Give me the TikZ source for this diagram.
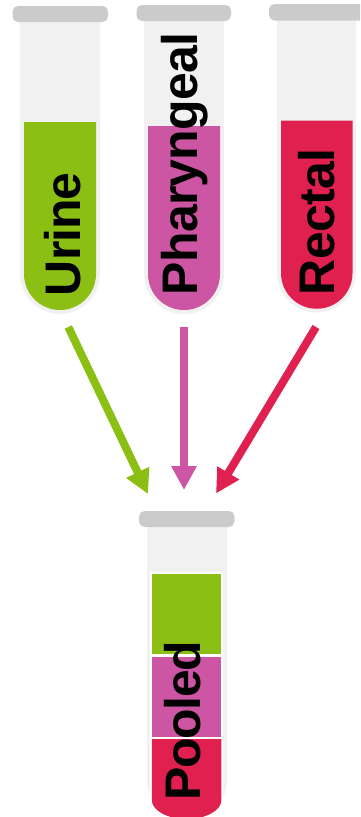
\documentclass[tikz,border=0pt]{standalone}
\usepackage{fontspec}
\setmainfont{Liberation Sans}
\usetikzlibrary{arrows.meta}
\definecolor{ugreen}{HTML}{8BBF14}
\definecolor{ppink}{HTML}{CC56A3}
\definecolor{rred}{HTML}{E0204F}
\definecolor{capgrey}{HTML}{CBCBCB}
\definecolor{glass}{HTML}{F1F1F1}
\tikzset{
  capbar/.style={fill=capgrey,draw=none,rounded corners=5.5pt},
  glassbody/.style={fill=glass,draw=none},
  sampletext/.style={rotate=90,anchor=base west,inner sep=0pt,outer sep=0pt,text=black,font=\bfseries\fontsize{50pt}{50pt}\selectfont},
  flow/.style={line width=8pt,-{Triangle[length=24pt,width=24pt]}},
}
\newcommand{\tubebody}[4]{% left, right, top, bottom
  \fill[glassbody] (#1,#3) -- (#2,#3) -- (#2,#4-40) arc[start angle=0,end angle=180,radius=(#2-#1)/2] -- cycle;}
\newcommand{\tubeliquid}[5]{% left,right,top,bottom,colour
  \fill[#5] (#1,#3) -- (#2,#3) -- (#2,#4-36) arc[start angle=0,end angle=180,radius=(#2-#1)/2] -- cycle;}
\begin{document}
\begin{tikzpicture}[x=1pt,y=-1pt]
\useasboundingbox (0,0) rectangle (360,817);
\clip (0,0) rectangle (360,817);
% tube 1
\tubebody{20}{100}{22}{314}
\fill[capbar] (12.5,6) rectangle (108,22);
\tubeliquid{24}{96}{122}{310}{ugreen}
\node[sampletext] (urine) at (80,296) {\addfontfeature{LetterSpace=-2}Urine};
% tube 2
\tubebody{144}{224}{21}{314}
\fill[capbar] (136.5,5) rectangle (231,21);
\tubeliquid{148}{220}{126}{310}{ppink}
\node[sampletext] (phar) at (197.5,295) {\addfontfeature{LetterSpace=-1.6}Pharyngeal};
% tube 3
\tubebody{277}{356}{20}{313}
\fill[capbar] (269,4) rectangle (372,20.5);
\tubeliquid{281}{352.5}{120.5}{309}{rred}
\node[sampletext] (rectal) at (334,295) {\addfontfeature{LetterSpace=-1.3}Rectal};
% pooled tube
\fill[glassbody] (147,527) -- (227,527) -- (227,780) arc[start angle=0,end angle=180,x radius=40,y radius=41] -- cycle;
\fill[capbar] (139,511) rectangle (234.5,527);
\fill[white] (150.2,572.4) -- (223,572.4) -- (223,800) arc[start angle=0,end angle=180,x radius=36.4,y radius=21] -- cycle;
\fill[ugreen] (151.6,573.8) rectangle (221.4,654.2);
\fill[ppink] (151.8,656.6) rectangle (221.4,736.6);
\fill[rred] (151.8,739) -- (221.4,739) -- (221.4,800) arc[start angle=0,end angle=180,x radius=34.8,y radius=19] -- cycle;
\node[sampletext] (pooled) at (200,800) {\addfontfeature{LetterSpace=-3}Pooled};
% arrows
\coordinate (a1s) at (68.3,327);
\coordinate (a1e) at (148,494);
\coordinate (a2s) at (184,327);
\coordinate (a2e) at (184,490);
\coordinate (a3s) at (316,327);
\coordinate (a3e) at (216,493.5);
\draw[flow,ugreen] (a1s) -- (a1e);
\draw[flow,ppink] (a2s) -- (a2e);
\draw[flow,rred] (a3s) -- (a3e);
\end{tikzpicture}
\end{document}
